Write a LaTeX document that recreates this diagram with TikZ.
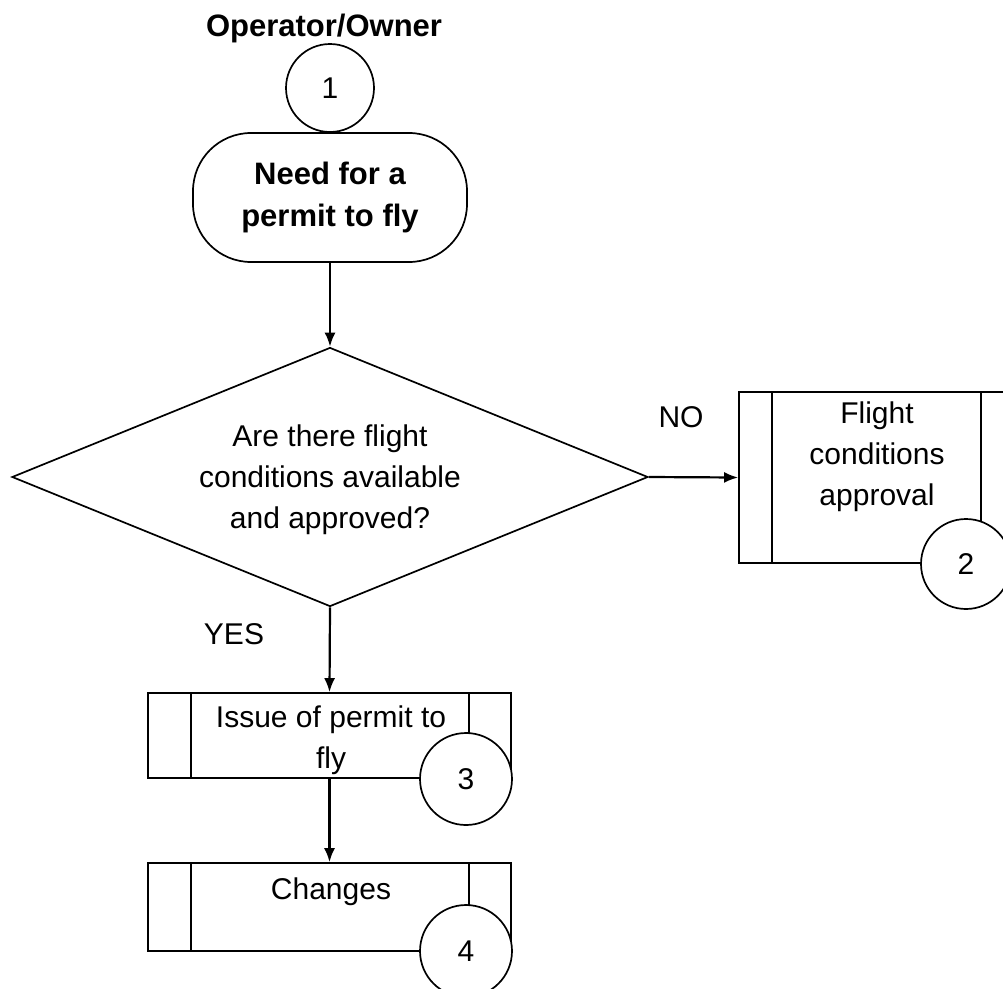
\documentclass[tikz,border=0pt]{standalone}
\usepackage{fontspec}
\setmainfont{Liberation Sans}
\usetikzlibrary{shapes.geometric,arrows.meta}
\begin{document}
\begin{tikzpicture}[x=1pt,y=-1pt,
  txt/.style={font=\fontsize{30}{41}\selectfont,align=center,inner sep=0pt},
  btxt/.style={font=\fontsize{31}{42}\selectfont\bfseries,align=center,inner sep=0pt},
  shapeline/.style={draw,line width=1.7pt},
  conn/.style={line width=2.2pt,-{Latex[length=14pt,width=11pt]}},
  numcirc/.style={circle,shapeline,fill=white,minimum size=90pt,inner sep=0pt,font=\fontsize{30}{36}\selectfont},
  procbox/.style={rectangle,shapeline,inner sep=0pt},
]
\useasboundingbox (0,0) rectangle (1003,988);

% title
\node[btxt] (title) at (324,28) {Operator/Owner};

% start
\node[rectangle,shapeline,rounded corners=58pt,minimum width=274pt,minimum height=129pt,inner sep=0pt] (start) at (330,197.5) {};
\node[btxt] (starttxt) at (330,197) {Need for a\\permit to fly};
\node[numcirc,minimum size=88pt] (c1) at (330,88) {1};

% decision
\node[diamond,shapeline,minimum width=636pt,minimum height=259pt,inner sep=0pt] (dec) at (330,477) {};
\node[txt] (dectxt) at (330,480) {Are there flight\\conditions available\\and approved?};

% box 2
\node[procbox,minimum width=275pt,minimum height=171pt] (b2) at (876.5,477.5) {};
\draw[line width=1.7pt] ([xshift=34pt]b2.north west) -- ([xshift=34pt]b2.south west);
\draw[line width=1.7pt] ([xshift=-34pt]b2.north east) -- ([xshift=-34pt]b2.south east);
\node[txt] (b2txt) at (877,457) {Flight\\conditions\\approval};
\node[numcirc] (c2) at (966,564) {2};

% box 3
\node[procbox,minimum width=363pt,minimum height=85pt] (b3) at (329.5,735.5) {};
\draw[line width=1.7pt] ([xshift=44pt]b3.north west) -- ([xshift=44pt]b3.south west);
\draw[line width=1.7pt] ([xshift=-43pt]b3.north east) -- ([xshift=-43pt]b3.south east);
\node[txt] (b3txt) at (331,740) {Issue of permit to\\fly};
\node[numcirc,minimum size=92pt] (c3) at (466,779) {3};

% box 4
\node[procbox,minimum width=363pt,minimum height=88pt] (b4) at (329.5,907) {};
\draw[line width=1.7pt] ([xshift=44pt]b4.north west) -- ([xshift=44pt]b4.south west);
\draw[line width=1.7pt] ([xshift=-43pt]b4.north east) -- ([xshift=-43pt]b4.south east);
\node[txt] (b4txt) at (331,892) {Changes};
\node[numcirc,minimum size=92pt] (c4) at (466,951) {4};

% labels
\node[txt] (no) at (681,417) {NO};
\node[txt] (yes) at (234,634) {YES};

% connectors
\draw[conn] (start.south) -- (dec.north);
\draw[conn] (dec.east) -- (b2.west);
\draw[conn] (dec.south) -- (b3.north);
\draw[conn] (b3.south) -- (b4.north);
\end{tikzpicture}
\end{document}
